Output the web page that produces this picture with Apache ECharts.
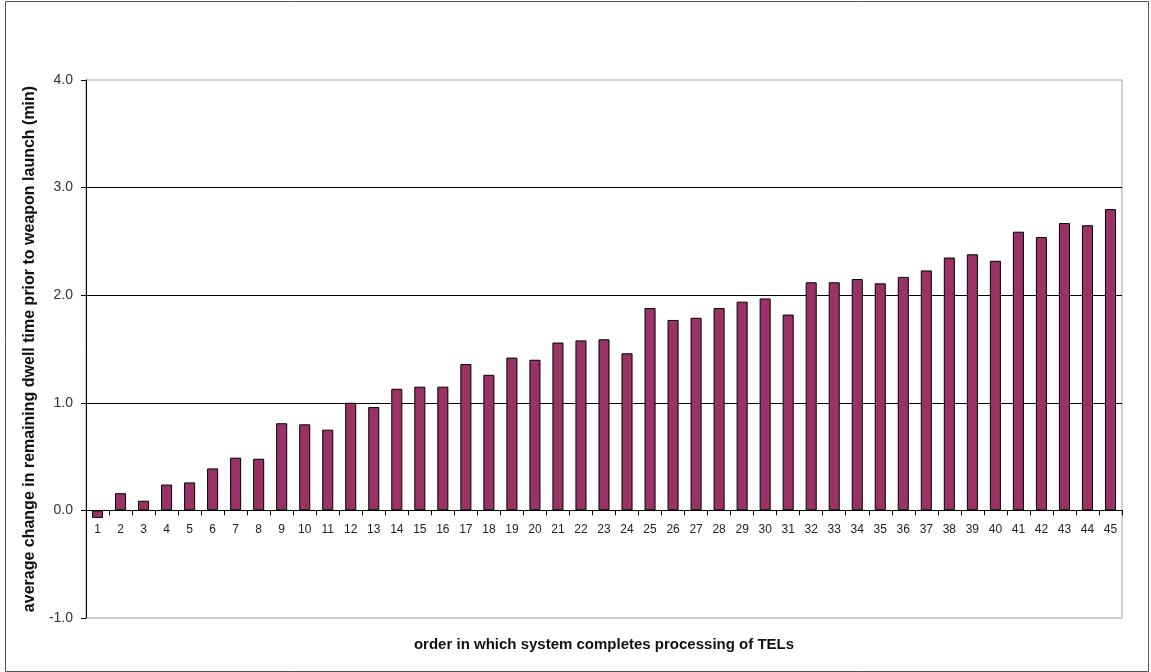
<!DOCTYPE html>
<html>
<head>
<meta charset="utf-8">
<script src="https://cdn.jsdelivr.net/npm/echarts@6/dist/echarts.min.js"></script>
<style>
  html, body { margin: 0; padding: 0; background: #fff; }
  #chart { width: 1151px; height: 672px; }
</style>
</head>
<body>
<div id="chart"></div>
<script>
// order in which the TELs are processed
var categories = [];
for (var i = 1; i <= 45; i++) categories.push(String(i));

// average change in remaining dwell time (min)
var dwellChange = [
    -0.07, 0.16, 0.09, 0.24, 0.26, 0.39, 0.49, 0.48, 0.81, 0.80,
    0.75, 1.00, 0.96, 1.13, 1.15, 1.15, 1.36, 1.26, 1.42, 1.40,
    1.56, 1.58, 1.59, 1.46, 1.88, 1.77, 1.79, 1.88, 1.94, 1.97,
    1.82, 2.12, 2.12, 2.15, 2.11, 2.17, 2.23, 2.35, 2.38, 2.32,
    2.59, 2.54, 2.67, 2.65, 2.80
];

var yTicks = { min: -1, max: 4, interval: 1 };

var gridTop = 80, gridBottom = 54, chartH = 672;
// the category axis sits on the zero line: shift it up from the grid bottom
var plotH = chartH - gridTop - gridBottom;
var zeroOffset = -plotH * (0 - yTicks.min) / (yTicks.max - yTicks.min);

var chart = echarts.init(document.getElementById('chart'));

var option = {
    backgroundColor: '#fff',
    animation: false,
    graphic: [
        {
            type: 'rect',
            shape: { x: 5.5, y: 1.5, width: 1143, height: 670 },
            style: { fill: 'none', stroke: '#555', lineWidth: 1 },
            silent: true
        }
    ],
    grid: {
        left: 86,
        right: 29,
        top: gridTop,
        bottom: gridBottom,
        outerBoundsMode: 'none',
        containLabel: false,
        show: true,
        borderColor: '#a0a0a0',
        borderWidth: 1
    },
    xAxis: {
        type: 'category',
        data: categories,
        position: 'bottom',
        offset: zeroOffset,
        name: 'order in which system completes processing of TELs',
        nameLocation: 'middle',
        nameGap: 127,
        nameTextStyle: {
            fontFamily: 'Liberation Sans, Arial',
            fontWeight: 'bold',
            fontSize: 15,
            color: '#111'
        },
        axisLine: { onZero: false, lineStyle: { color: '#000', width: 1 } },
        axisTick: { show: true, length: 5, lineStyle: { color: '#000' } },
        axisLabel: {
            interval: 0,
            margin: 13,
            fontFamily: 'Liberation Sans, Arial',
            fontSize: 12,
            color: '#222'
        }
    },
    yAxis: {
        type: 'value',
        min: yTicks.min,
        max: yTicks.max,
        interval: yTicks.interval,
        name: 'average change in remaining dwell time prior to weapon launch (min)',
        nameLocation: 'middle',
        nameGap: 46,
        nameTextStyle: {
            fontFamily: 'Liberation Sans, Arial',
            fontWeight: 'bold',
            fontSize: 16,
            color: '#111'
        },
        axisLine: { show: true, lineStyle: { color: '#000', width: 1 } },
        axisTick: { show: true, length: 5, lineStyle: { color: '#000' } },
        axisLabel: {
            margin: 13,
            fontFamily: 'Liberation Sans, Arial',
            fontSize: 14,
            color: '#333',
            formatter: function (v) { return v.toFixed(1); }
        },
        splitLine: {
            show: true,
            showMinLine: false,
            showMaxLine: false,
            lineStyle: { color: '#000', width: 1 }
        }
    },
    series: [
        {
            type: 'bar',
            data: dwellChange,
            barWidth: '48%',
            itemStyle: {
                color: '#993366',
                borderColor: '#000',
                borderWidth: 1
            }
        }
    ]
};

chart.setOption(option);
</script>
</body>
</html>
